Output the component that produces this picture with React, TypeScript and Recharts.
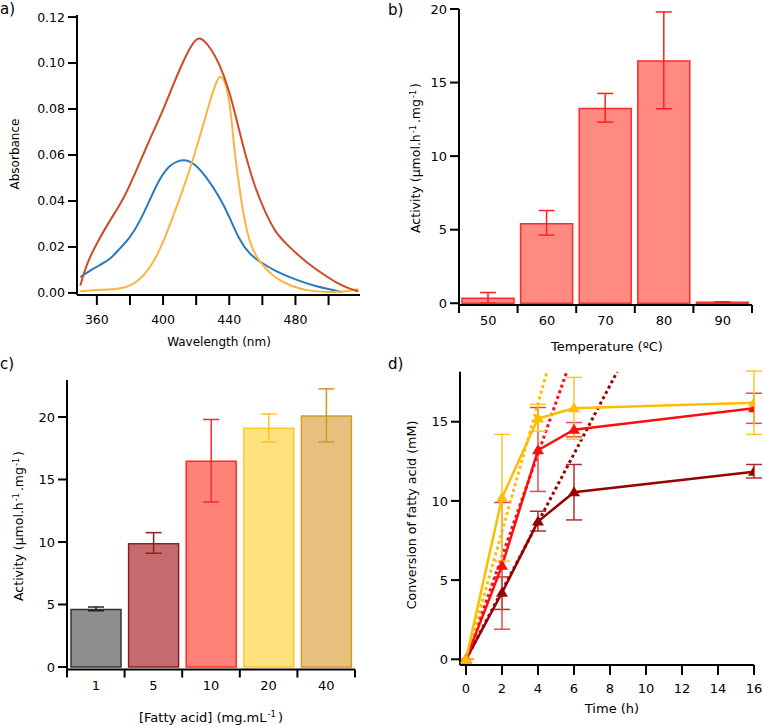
import React from 'react';
import { LineChart, BarChart, ComposedChart, Line, Bar, XAxis, YAxis, ErrorBar } from 'recharts';

const FONT = '"DejaVu Sans", Verdana, sans-serif';

// a) absorbance spectra
const redWl = [350, 354, 360, 368, 376, 384, 390, 400, 406, 412, 417, 421, 424, 429, 434, 440, 445, 450, 456, 462, 468, 477, 487, 497, 505, 513, 518];
const redAbs = [0.0032, 0.013, 0.0217, 0.0318, 0.0405, 0.0535, 0.0636, 0.0795, 0.0904, 0.1005, 0.1077, 0.1112, 0.1105, 0.1063, 0.0998, 0.0882, 0.0737, 0.0593, 0.0448, 0.0347, 0.026, 0.0195, 0.013, 0.008, 0.0043, 0.0017, 0.0007];
const blueWl = [350, 356, 362, 368, 374, 380, 386, 392, 398, 404, 410, 414, 419, 426, 434, 440, 446, 452, 458, 468, 480, 492, 502, 508];
const blueAbs = [0.0069, 0.0098, 0.0123, 0.0145, 0.0195, 0.0239, 0.0311, 0.0405, 0.0499, 0.0557, 0.0578, 0.0578, 0.0564, 0.0506, 0.0419, 0.0333, 0.0231, 0.0171, 0.0137, 0.0094, 0.0058, 0.0029, 0.0014, 0.0004];
const yelWl = [350, 362, 374, 382, 388, 394, 400, 406, 412, 418, 424, 429, 433, 435, 438, 441, 443, 446, 449, 453, 458, 466, 477, 489, 501, 511, 518];
const yelAbs = [0.0007, 0.0014, 0.0017, 0.0036, 0.0072, 0.013, 0.0217, 0.0333, 0.0448, 0.0578, 0.0723, 0.0853, 0.0935, 0.0945, 0.0915, 0.0795, 0.0622, 0.0463, 0.0318, 0.0202, 0.0137, 0.0072, 0.0029, 0.0007, 0.0003, 0.0006, 0.0017];
const wlTicks = [360, 380, 400, 420, 440, 460, 480, 500];
const absTicks = [0, 0.02, 0.04, 0.06, 0.08, 0.1, 0.12];

// b) temperature
const temps = ['50', '60', '70', '80', '90'];
const actTemp = [0.34, 5.4, 13.24, 16.46, 0.07];
const tempLo = [0.0, 4.63, 12.31, 13.22, 0.03];
const tempHi = [0.73, 6.3, 14.26, 19.8, 0.1];

// c) fatty acid concentration
const concs = ['1', '5', '10', '20', '40'];
const actConc = [4.6, 9.87, 16.47, 19.1, 20.08];
const concLo = [4.5, 9.1, 13.2, 18.0, 18.0];
const concHi = [4.8, 10.75, 19.8, 20.24, 22.25];
const concFill = ['#8f8f8f', '#c46b6e', '#ff8379', '#ffe17f', '#e6c07c'];
const concStroke = ['#333333', '#9a1a1a', '#ff2a22', '#ffca2a', '#d49a2a'];
const concErr = ['#222222', '#9a1a1a', '#ff2a22', '#ffc520', '#d4962a'];

// d) time course
const times = [0, 2, 4, 6, 16];
const yelConv = [0, 10.2, 15.2, 15.85, 16.2];
const yelLo = [0, 6.2, 14.4, 13.9, 14.2];
const yelHi = [0, 14.2, 16.1, 17.8, 18.2];
const redConv = [0, 5.9, 13.2, 14.5, 15.85];
const redLo = [0, 1.9, 10.6, 14.05, 14.9];
const redHi = [0, 9.9, 15.9, 14.95, 16.8];
const drConv = [0, 4.2, 8.7, 10.55, 11.85];
const drLo = [0, 3.15, 8.1, 8.8, 11.45];
const drHi = [0, 5.2, 9.35, 12.3, 12.3];
const yelFit = [[0, 0], [4.5, 18.16]];
const redFit = [[0, 0], [5.6, 18.16]];
const drFit = [[0, 0], [8.4, 18.16]];

const YEL = '#ffbd00';
const RED = '#ff0d0d';
const DRED = '#990000';

const axisStyle = { stroke: '#000', strokeWidth: 2 };
const tickText = (size: number) => ({ fill: '#000', fontSize: size, fontFamily: FONT });

const pts = (xs: number[], ys: number[]) => xs.map((x, i) => ({ w: x, a: ys[i] }));
const series = (vals: number[], lo: number[], hi: number[]) =>
  times.map((t, i) => ({ t, v: vals[i], e: [vals[i] - lo[i], hi[i] - vals[i]] }));
const fitPts = (f: number[][]) => f.map(([t, v]) => ({ t, v }));

const Title = ({ cx, cy, rot, size, children }: any) => (
  <div
    style={{
      position: 'absolute',
      left: cx,
      top: cy,
      transform: `translate(-50%, -50%)${rot ? ' rotate(-90deg)' : ''}`,
      whiteSpace: 'nowrap',
      fontFamily: FONT,
      fontSize: size,
      lineHeight: 1,
      color: '#000',
    }}
  >
    {children}
  </div>
);

const Sup = ({ children }: any) => (
  <span style={{ fontSize: '0.65em', position: 'relative', top: '-0.55em', marginLeft: 1, marginRight: 2 }}>{children}</span>
);

const catTick = (labels: string[], size: number, gap: number) => (props: any) => {
  const { x, y, payload } = props;
  const v = payload.value;
  if (Number.isInteger(v)) {
    return <line key={`t${v}`} x1={x} x2={x} y1={y} y2={y + 8} stroke="#000" strokeWidth={2} />;
  }
  return (
    <text key={`l${v}`} x={x} y={y + gap} dy="0.71em" textAnchor="middle" fill="#000" fontSize={size} fontFamily={FONT}>
      {labels[Math.floor(v)]}
    </text>
  );
};

const halfTicks = [0, 0.5, 1, 1.5, 2, 2.5, 3, 3.5, 4, 4.5, 5];

const tri = (color: string) => (p: any) => {
  const { cx, cy, index } = p;
  if (cx == null || cy == null) return <g key={index} />;
  return <path key={index} d={`M${cx},${cy - 6}L${cx + 6},${cy + 4}L${cx - 6},${cy + 4}Z`} fill={color} />;
};

function SpectraChart() {
  return (
    <LineChart width={380} height={355} margin={{ top: 15, right: 20, bottom: 0, left: 0 }}>
      <XAxis type="number" dataKey="w" domain={[348, 519]} ticks={wlTicks} interval={0} allowDataOverflow
        tickFormatter={(v: number) => (v % 40 === 0 ? String(v) : '')} height={60}
        axisLine={axisStyle} tickLine={axisStyle} tickSize={10} tickMargin={10} tick={tickText(12.5)} />
      <YAxis type="number" domain={[-0.0009, 0.1209]} ticks={absTicks} interval={0} allowDataOverflow
        tickFormatter={(v: number) => v.toFixed(2)} width={77}
        axisLine={axisStyle} tickLine={axisStyle} tickSize={9} tickMargin={3} tick={tickText(12.5)} />
      <Line data={pts(blueWl, blueAbs)} dataKey="a" type="basis" stroke="#2b7bba" strokeWidth={2} dot={false} isAnimationActive={false} />
      <Line data={pts(yelWl, yelAbs)} dataKey="a" type="basis" stroke="#fbb441" strokeWidth={2} dot={false} isAnimationActive={false} />
      <Line data={pts(redWl, redAbs)} dataKey="a" type="basis" stroke="#cf4a26" strokeWidth={2} dot={false} isAnimationActive={false} />
    </LineChart>
  );
}

function TempChart() {
  const data = temps.map((_, i) => ({ x: i + 0.5, v: actTemp[i], e: [actTemp[i] - tempLo[i], tempHi[i] - actTemp[i]] }));
  return (
    <BarChart width={383} height={340} data={data} margin={{ top: 9, right: 11, bottom: 0, left: 0 }}>
      <XAxis type="number" dataKey="x" domain={[0, 5]} ticks={halfTicks} interval={0} height={35}
        axisLine={axisStyle} tickLine={false} tickSize={0} tickMargin={0} tick={catTick(temps, 13, 10.5)} />
      <YAxis type="number" domain={[-0.12, 20]} ticks={[0, 5, 10, 15, 20]} interval={0} allowDataOverflow width={79}
        axisLine={axisStyle} tickLine={axisStyle} tickSize={9} tickMargin={3} tick={tickText(13)} />
      <Bar dataKey="v" barSize={52} fill="#ff8a82" stroke="#ff2a2a" strokeWidth={1.5} isAnimationActive={false}>
        <ErrorBar dataKey="e" width={8} stroke="#ff2020" strokeWidth={1.5} direction="y" />
      </Bar>
    </BarChart>
  );
}

function ConcChart() {
  const data = concs.map((_, i) => ({
    x: i + 0.5,
    ['c' + i]: actConc[i],
    ['e' + i]: [actConc[i] - concLo[i], concHi[i] - actConc[i]],
  }));
  return (
    <BarChart width={380} height={360} data={data} margin={{ top: 40, right: 25, bottom: 0, left: 0 }}>
      <XAxis type="number" dataKey="x" domain={[0, 5]} ticks={halfTicks} interval={0} height={30.5}
        axisLine={axisStyle} tickLine={false} tickSize={0} tickMargin={0} tick={catTick(concs, 13, 11)} />
      <YAxis type="number" domain={[-0.2, 22.96]} ticks={[0, 5, 10, 15, 20]} interval={0} allowDataOverflow width={67}
        axisLine={axisStyle} tickLine={axisStyle} tickSize={9} tickMargin={3} tick={tickText(13)} />
      {concs.map((_, i) => (
        <Bar key={i} dataKey={'c' + i} stackId="s" barSize={50} fill={concFill[i]} stroke={concStroke[i]}
          strokeWidth={1.5} isAnimationActive={false}>
          <ErrorBar dataKey={'e' + i} width={8} stroke={concErr[i]} strokeWidth={1.5} direction="y" />
        </Bar>
      ))}
    </BarChart>
  );
}

function TimeChart() {
  return (
    <ComposedChart width={383} height={380} margin={{ top: 31.7, right: 9, bottom: 0, left: 0 }}>
      <XAxis type="number" dataKey="t" domain={[-0.333, 16]} ticks={[0, 2, 4, 6, 8, 10, 12, 14, 16]} interval={0}
        allowDataOverflow height={55} axisLine={axisStyle} tickLine={axisStyle} tickSize={10} tickMargin={9} tick={tickText(13)} />
      <YAxis type="number" domain={[-0.36, 18.16]} ticks={[0, 5, 10, 15]} interval={0} allowDataOverflow width={80}
        axisLine={axisStyle} tickLine={axisStyle} tickSize={9} tickMargin={3} tick={tickText(13)} />
      <Line data={fitPts(drFit)} dataKey="v" stroke={DRED} strokeWidth={3} strokeDasharray="3 3" dot={false} isAnimationActive={false} />
      <Line data={fitPts(redFit)} dataKey="v" stroke={RED} strokeWidth={3} strokeDasharray="3 3" dot={false} isAnimationActive={false} />
      <Line data={fitPts(yelFit)} dataKey="v" stroke={YEL} strokeWidth={3} strokeDasharray="3 3" dot={false} isAnimationActive={false} />
      <Line data={series(drConv, drLo, drHi)} dataKey="v" stroke={DRED} strokeWidth={2.5} dot={tri(DRED)} isAnimationActive={false}>
        <ErrorBar dataKey="e" width={8} stroke="#b03030" strokeWidth={1.5} direction="y" />
      </Line>
      <Line data={series(redConv, redLo, redHi)} dataKey="v" stroke={RED} strokeWidth={2.5} dot={tri(RED)} isAnimationActive={false}>
        <ErrorBar dataKey="e" width={8} stroke="#e84a4a" strokeWidth={1.5} direction="y" />
      </Line>
      <Line data={series(yelConv, yelLo, yelHi)} dataKey="v" stroke={YEL} strokeWidth={2.5} dot={tri(YEL)} isAnimationActive={false}>
        <ErrorBar dataKey="e" width={8} stroke="#ffc62a" strokeWidth={1.5} direction="y" />
      </Line>
    </ComposedChart>
  );
}

const letter = { position: 'absolute' as const, fontFamily: FONT, fontSize: 15, lineHeight: 1, color: '#000' };

export default function App() {
  return (
    <div style={{ position: 'absolute', left: 0, top: 0, width: 763, height: 726, background: '#fff', overflow: 'hidden' }}>
      <div style={{ position: 'absolute', left: 0, top: 0 }}><SpectraChart /></div>
      <div style={{ position: 'absolute', left: 380, top: 0 }}><TempChart /></div>
      <div style={{ position: 'absolute', left: 0, top: 340 }}><ConcChart /></div>
      <div style={{ position: 'absolute', left: 380, top: 340 }}><TimeChart /></div>

      <div style={{ ...letter, left: 0, top: 2 }}>a)</div>
      <div style={{ ...letter, left: 388, top: 3 }}>b)</div>
      <div style={{ ...letter, left: 0, top: 357 }}>c)</div>
      <div style={{ ...letter, left: 388, top: 357 }}>d)</div>

      <Title cx={15} cy={154} rot size={12}>Absorbance</Title>
      <Title cx={219} cy={342} size={12}>Wavelength (nm)</Title>
      <Title cx={416} cy={158} rot size={12.5}>Activity (µmol.h<Sup>-1</Sup>.mg<Sup>-1</Sup>)</Title>
      <Title cx={607} cy={346} size={13}>Temperature (ºC)</Title>
      <Title cx={19} cy={526} rot size={12.5}>Activity (µmol.h<Sup>-1</Sup>.mg<Sup>-1</Sup>)</Title>
      <Title cx={211} cy={717} size={13}>[Fatty acid] (mg.mL<Sup>-1</Sup>)</Title>
      <Title cx={412} cy={515} rot size={12.7}>Conversion of fatty acid (mM)</Title>
      <Title cx={612} cy={708} size={13}>Time (h)</Title>
    </div>
  );
}
